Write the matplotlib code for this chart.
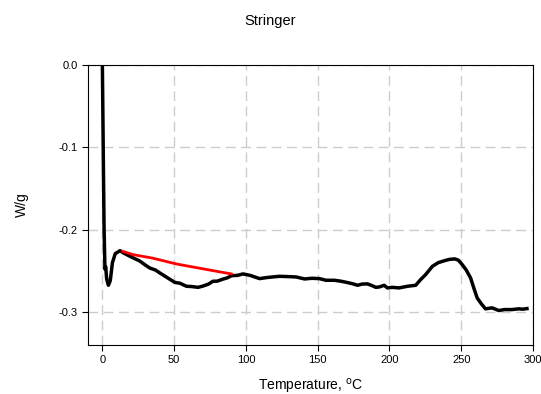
import numpy as np
import matplotlib.pyplot as plt

plt.rcParams['font.family'] = ['Liberation Sans', 'DejaVu Sans']

# DSC curve
temp = [0.0, 0.3, 0.7, 1.2, 1.8, 2.3, 3.0, 4.2, 5.5, 7.0, 9.0, 12.3, 15.0, 20.0,
        26.0, 30.0, 33.0, 37.0, 40.0, 45.0, 50.5, 54.0, 58.6, 62.0, 66.7, 70.0,
        74.0, 77.0, 80.0, 84.0, 87.0, 90.0, 94.0, 98.0, 103.0, 109.5, 115.0,
        123.4, 130.0, 135.0, 140.8, 146.0, 151.2, 155.8, 161.6, 166.0, 169.7,
        174.0, 177.8, 181.0, 184.7, 188.0, 190.5, 193.0, 196.3, 198.6, 202.0,
        206.7, 212.5, 218.3, 221.5, 225.2, 229.9, 234.0, 239.2, 242.0, 245.6,
        248.0, 250.7, 253.5, 256.5, 259.0, 261.1, 264.0, 266.9, 271.5, 276.2,
        280.0, 285.4, 290.0, 293.0, 295.8]
heat = [0.0, -0.05, -0.12, -0.2, -0.248, -0.245, -0.26, -0.2675, -0.262, -0.24,
        -0.229, -0.2255, -0.2285, -0.233, -0.238, -0.243, -0.2465, -0.249,
        -0.2525, -0.258, -0.264, -0.265, -0.2687, -0.269, -0.270, -0.2685,
        -0.266, -0.2626, -0.2625, -0.260, -0.2585, -0.2558, -0.2555, -0.2537,
        -0.2555, -0.2594, -0.258, -0.2566, -0.257, -0.2574, -0.2598, -0.259,
        -0.2594, -0.2614, -0.2614, -0.2625, -0.2638, -0.2655, -0.2675, -0.266,
        -0.2658, -0.268, -0.270, -0.2695, -0.2675, -0.2707, -0.270, -0.2707,
        -0.2687, -0.2675, -0.261, -0.2545, -0.2445, -0.240, -0.2372, -0.236,
        -0.2355, -0.237, -0.2424, -0.249, -0.2585, -0.272, -0.2828, -0.290,
        -0.2961, -0.2949, -0.2982, -0.297, -0.297, -0.2961, -0.2965, -0.2958]

# red baseline
base_t = [14.2, 21.5, 35.0, 51.6, 70.0, 89.9]
base_h = [-0.2263, -0.2303, -0.2345, -0.2416, -0.2475, -0.2537]

fig = plt.figure(figsize=(5.41, 3.94), dpi=100)
ax = fig.add_axes([0.1627, 0.1244, 0.8225, 0.7106])

ax.plot(temp, heat, color='black', lw=2.5, zorder=3)
ax.plot(base_t, base_h, color='red', lw=2.0, zorder=4)

ax.set_xlim(-10, 300)
ax.set_ylim(-0.34, 0.0)
ax.set_xticks([0, 50, 100, 150, 200, 250, 300])
ax.set_yticks([0.0, -0.1, -0.2, -0.3])
ax.set_yticklabels(['0.0', '-0.1', '-0.2', '-0.3'])
ax.grid(True, color='#cccccc', ls=(0, (7, 4)), lw=1.0)
ax.tick_params(labelsize=8, length=4, width=0.8, direction='out')

ax.set_xlabel('Temperature, $^{\\mathrm{o}}$C', fontsize=10, labelpad=8)
ax.set_ylabel('W/g', fontsize=10, labelpad=21)
fig.suptitle('Stringer', fontsize=10.5, y=0.965)

fig.savefig('out.png', dpi=100)
